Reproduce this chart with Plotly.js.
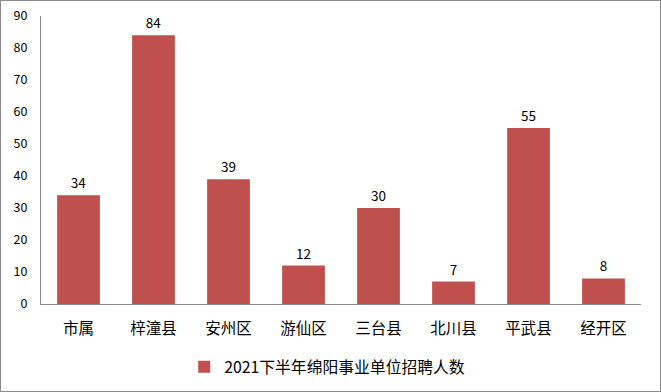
<!DOCTYPE html>
<html><head><meta charset="utf-8">
<script src="https://cdn.plot.ly/plotly-3.0.1.min.js"></script>
<style>
html,body{margin:0;padding:0;background:#fff;}
#chart{width:661px;height:392px;box-sizing:border-box;border:1px solid #8c8c8c;}
</style>
</head><body>
<div id="chart"></div>
<script>
const categories = ["市属","梓潼县","安州区","游仙区","三台县","北川县","平武县","经开区"];
const values = [34,84,39,12,30,7,55,8];
const seriesName = "2021下半年绵阳事业单位招聘人数";
const yTicks = [0,10,20,30,40,50,60,70,80,90];

const font = "Noto Sans CJK SC, Liberation Sans, sans-serif";
Plotly.newPlot("chart", [{
  type: "bar",
  x: categories,
  y: values,
  name: seriesName,
  marker: {color: "#C0504D"},
  width: 0.57,
  text: values.map(String),
  textposition: "outside",
  textfont: {size: 13.5, color: "#000", family: font},
  cliponaxis: false,
  showlegend: true
}], {
  width: 659, height: 390,
  margin: {l: 40, r: 19, t: 15, b: 87},
  paper_bgcolor: "#fff", plot_bgcolor: "#fff",
  font: {family: font, color: "#000"},
  xaxis: {
    showline: true, linecolor: "#8c8c8c", linewidth: 1,
    ticks: "", tickfont: {size: 15.5, color: "#000"},
    ticklabelstandoff: 10, automargin: false,
    showgrid: false, zeroline: false, fixedrange: true
  },
  yaxis: {
    range: [0, 90], tickvals: yTicks, ticktext: yTicks.map(String),
    showline: true, linecolor: "#8c8c8c", linewidth: 1,
    ticks: "", tickfont: {size: 12.5, color: "#000"},
    ticklabelstandoff: 10, automargin: false,
    showgrid: false, zeroline: false, fixedrange: true
  },
  showlegend: true,
  legend: {
    orientation: "h", x: 0.477, xanchor: "center",
    yref: "container", y: 0.0615, yanchor: "middle",
    itemwidth: 30,
    font: {size: 15.8, color: "#000"}
  }
}, {displayModeBar: false, staticPlot: true});
</script>
</body></html>
